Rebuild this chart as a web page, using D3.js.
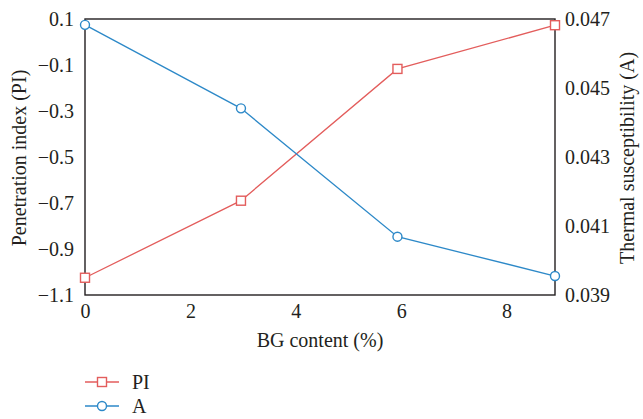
<!DOCTYPE html>
<html>
<head>
<meta charset="utf-8">
<script src="https://cdn.jsdelivr.net/npm/d3@7"></script>
<style>
  body { margin: 0; background: #fff; }
  text { font-family: "Liberation Serif", "DejaVu Serif", serif; fill: #231f20; }
</style>
</head>
<body>
<svg id="chart" width="643" height="419"></svg>
<script>
const bgContent = [0, 2.96, 5.93, 8.92];
const piValues = [-1.025, -0.69, -0.117, 0.073];
const aValues = [0.04683, 0.04441, 0.04069, 0.03955];
const xTicks = [0, 2, 4, 6, 8];
const leftTicks = [0.1, -0.1, -0.3, -0.5, -0.7, -0.9, -1.1];
const rightTicks = [0.047, 0.045, 0.043, 0.041, 0.039];

const RED = '#e35d5c';
const BLUE = '#2d89c8';
const FONT = 20;
const MK = 4.5;

const margin = { left: 85, right: 88, top: 19, bottom: 124 };
const width = 643, height = 419;
const svg = d3.select('#chart');

const x = d3.scaleLinear().domain([0, 8.92]).range([margin.left, width - margin.right]);
const yL = d3.scaleLinear().domain([-1.1, 0.1]).range([height - margin.bottom, margin.top]);
const yR = d3.scaleLinear().domain([0.039, 0.047]).range([height - margin.bottom, margin.top]);

// frame
svg.append('rect')
    .attr('x', x.range()[0]).attr('y', margin.top)
    .attr('width', x.range()[1] - x.range()[0])
    .attr('height', yL.range()[0] - margin.top)
    .attr('fill', 'none').attr('stroke', '#231f20').attr('stroke-width', 1.4);

const fmtL = d => (d < 0 ? '\u2212' : '') + Math.abs(d).toFixed(1);

// axes, tick marks hidden
const axB = svg.append('g').attr('transform', `translate(0,${yL.range()[0]})`)
    .call(d3.axisBottom(x).tickValues(xTicks).tickSize(0).tickPadding(9).tickFormat(d3.format('d')));
const axL = svg.append('g').attr('transform', `translate(${margin.left},0)`)
    .call(d3.axisLeft(yL).tickValues(leftTicks).tickSize(0).tickPadding(11).tickFormat(fmtL));
const axR = svg.append('g').attr('transform', `translate(${width - margin.right},0)`)
    .call(d3.axisRight(yR).tickValues(rightTicks).tickSize(0).tickPadding(10).tickFormat(d3.format('.3f')));
[axB, axL, axR].forEach(a => {
    a.attr('font-family', null);
    a.select('.domain').remove();
    a.selectAll('text').attr('font-size', FONT).attr('fill', '#231f20');
});

// titles
svg.append('text').attr('x', 320).attr('y', 347).attr('text-anchor', 'middle')
    .attr('font-size', FONT).text('BG content (%)');
svg.append('text').attr('transform', `translate(26,${(margin.top + yL.range()[0]) / 2 + 1}) rotate(-90)`)
    .attr('text-anchor', 'middle').attr('font-size', FONT).text('Penetration index (PI)');
svg.append('text').attr('transform', `translate(634,${(margin.top + yL.range()[0]) / 2 + 1}) rotate(-90)`)
    .attr('text-anchor', 'middle').attr('font-size', FONT).text('Thermal susceptibility (A)');

// series
const piData = bgContent.map((b, i) => ({ x: b, y: piValues[i] }));
const aData = bgContent.map((b, i) => ({ x: b, y: aValues[i] }));

svg.append('path').datum(piData)
    .attr('d', d3.line().x(d => x(d.x)).y(d => yL(d.y)))
    .attr('fill', 'none').attr('stroke', RED).attr('stroke-width', 1.3);
svg.append('path').datum(aData)
    .attr('d', d3.line().x(d => x(d.x)).y(d => yR(d.y)))
    .attr('fill', 'none').attr('stroke', BLUE).attr('stroke-width', 1.3);

svg.selectAll('.sq').data(piData).enter().append('rect')
    .attr('x', d => x(d.x) - MK).attr('y', d => yL(d.y) - MK)
    .attr('width', MK * 2).attr('height', MK * 2)
    .attr('fill', '#fff').attr('stroke', RED).attr('stroke-width', 1.4);
svg.selectAll('.ci').data(aData).enter().append('circle')
    .attr('cx', d => x(d.x)).attr('cy', d => yR(d.y)).attr('r', MK)
    .attr('fill', '#fff').attr('stroke', BLUE).attr('stroke-width', 1.4);

// legend
const legend = [
    { label: 'PI', color: RED, shape: 'square' },
    { label: 'A', color: BLUE, shape: 'circle' }
];
legend.forEach((l, i) => {
    const ly = 382 + i * 24;
    const g = svg.append('g');
    g.append('line').attr('x1', 85).attr('x2', 119).attr('y1', ly).attr('y2', ly)
        .attr('stroke', l.color).attr('stroke-width', 1.3);
    if (l.shape === 'square') {
        g.append('rect').attr('x', 102 - MK).attr('y', ly - MK).attr('width', MK * 2).attr('height', MK * 2)
            .attr('fill', '#fff').attr('stroke', l.color).attr('stroke-width', 1.4);
    } else {
        g.append('circle').attr('cx', 102).attr('cy', ly).attr('r', MK)
            .attr('fill', '#fff').attr('stroke', l.color).attr('stroke-width', 1.4);
    }
    g.append('text').attr('x', 132).attr('y', ly).attr('dy', '0.35em')
        .attr('font-size', FONT).text(l.label);
});
</script>
</body>
</html>
